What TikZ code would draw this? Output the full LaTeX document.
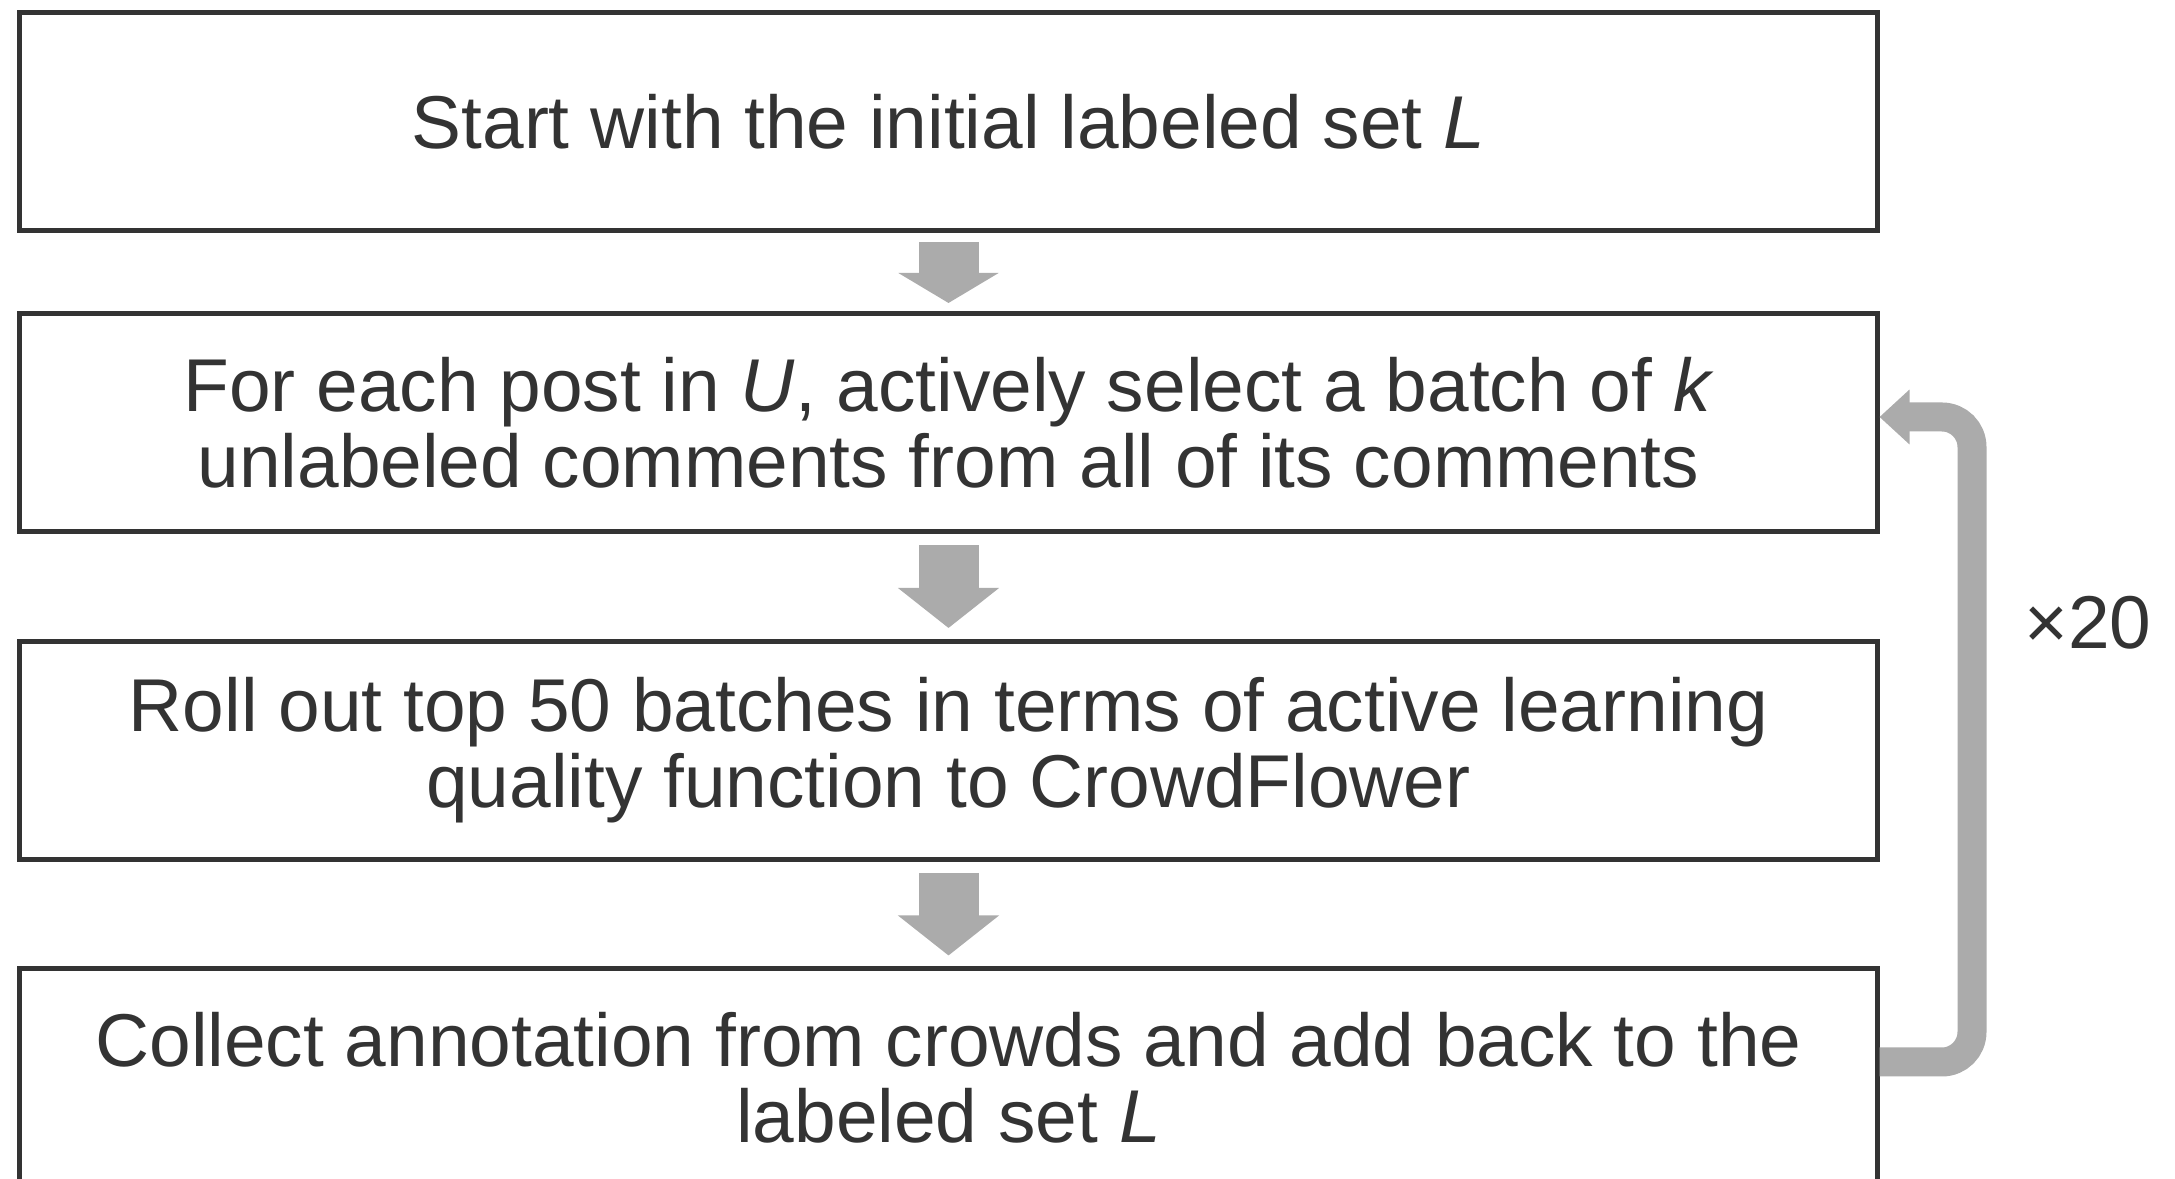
\documentclass[tikz,border=0pt]{standalone}
\usepackage{fontspec}
\setmainfont{Liberation Sans}
\usetikzlibrary{arrows.meta}
\definecolor{testo}{HTML}{333333}
\definecolor{grigio}{HTML}{ABABAB}

\begin{document}
\begin{tikzpicture}[
    blocco/.style={draw=testo,line width=0.05cm,minimum width=18.57cm,minimum height=2.18cm,
                   inner sep=0pt,align=center,text=testo,font=\fontsize{21.3}{21.6}\selectfont},
    freccia/.style={draw=grigio,line width=0.6cm,-{Triangle[width=0.99cm,length=#1]},
                    shorten <=0.11cm,shorten >=0.11cm},
    freccia/.default=0.40cm,
    ritorno/.style={draw=grigio,line width=0.29cm,rounded corners=0.3cm,
                    -{Triangle[width=0.53cm,length=0.30cm]}},
    nota/.style={inner sep=0pt,text=testo,font=\fontsize{21.3}{21.6}\selectfont}]
  \useasboundingbox (0,0) rectangle (21.75,-11.79);

  % ---- passi ---------------------------------------------------------------
  \node[blocco] (b1) at (9.485,-1.22)  {Start with the initial labeled set \textit{L}};
  \node[blocco] (b2) at (9.485,-4.23)  {For each post in \textit{U}, actively select a batch of \textit{k}\\
                                        unlabeled comments from all of its comments};
  \node[blocco] (b3) at (9.485,-7.505) {Roll out top 50 batches in terms of active learning\\
                                        quality function to CrowdFlower};
  \node[blocco] (b4) at (9.485,-10.78) {Collect annotation from crowds and add back to the\\
                                        labeled set \textit{L}};

  % ---- frecce --------------------------------------------------------------
  \draw[freccia=0.30cm,shorten <=0.085cm,shorten >=0.085cm] (b1) -- (b2);
  \draw[freccia] (b2) -- (b3);
  \draw[freccia] (b3) -- (b4);

  % ---- ciclo ---------------------------------------------------------------
  \draw[ritorno] ([yshift=0.16cm]b4.east) -- ++(0.925,0) |- ([yshift=0.06cm]b2.east);
  \node[nota] (rip) at (20.88,-6.23) {×20};
\end{tikzpicture}
\end{document}
